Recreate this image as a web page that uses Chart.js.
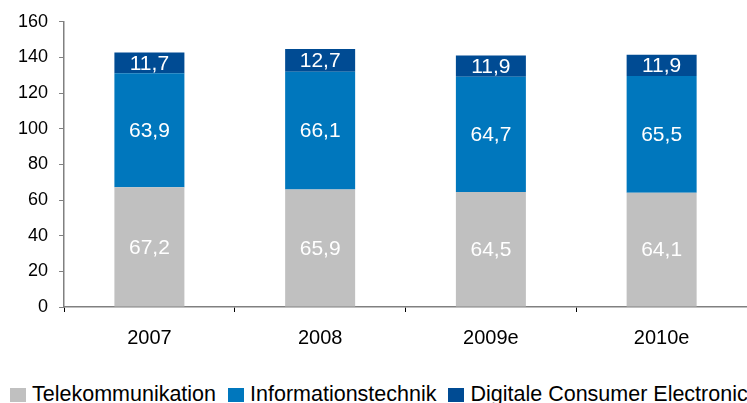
<!DOCTYPE html>
<html>
<head>
<meta charset="utf-8">
<script src="https://cdn.jsdelivr.net/npm/chart.js@4"></script>
<style>
  html, body { margin: 0; padding: 0; background: #fff; }
  #wrap { position: relative; width: 747px; height: 403px; overflow: hidden; }
  #box { position: absolute; left: 0; top: 0; width: 747px; height: 370px; }
  #legend { position: absolute; left: 10px; top: 382px; white-space: nowrap;
    font: 21.5px "Liberation Sans", Arial, sans-serif; color: #000; }
  #legend span.sw { display: inline-block; width: 16px; height: 14px; margin-right: 6px; vertical-align: -1px; }
  #legend span.it { margin-right: 12px; }
</style>
</head>
<body>
<div id="wrap">
  <div id="box"><canvas id="chart"></canvas></div>
  <div id="legend"></div>
</div>
<script>
// Marktvolumen nach Segment
const years = ['2007', '2008', '2009e', '2010e'];
const telekom = [67.2, 65.9, 64.5, 64.1];
const infotech = [63.9, 66.1, 64.7, 65.5];
const consumer = [11.7, 12.7, 11.9, 11.9];
const yTicks = [0, 20, 40, 60, 80, 100, 120, 140, 160];

const fontFam = '"Liberation Sans", Arial, sans-serif';

// white values in the middle of each segment
const segLabels = {
  id: 'segLabels',
  afterDatasetsDraw(chart) {
    const ctx = chart.ctx;
    ctx.save();
    ctx.fillStyle = '#fff';
    ctx.font = '21px ' + fontFam;
    ctx.textAlign = 'center';
    ctx.textBaseline = 'middle';
    chart.data.datasets.forEach((ds, i) => {
      chart.getDatasetMeta(i).data.forEach((bar, j) => {
        const mid = (bar.y + bar.base) / 2;
        ctx.fillText(ds.data[j].toFixed(1).replace('.', ','), bar.x, mid + 1);
      });
    });
    ctx.restore();
  }
};

const chart = new Chart(document.getElementById('chart'), {
  type: 'bar',
  data: {
    labels: years,
    datasets: [
      { label: 'Telekommunikation', data: telekom, backgroundColor: '#c0c0c0' },
      { label: 'Informationstechnik', data: infotech, backgroundColor: '#0077bd' },
      { label: 'Digitale Consumer Electronics', data: consumer, backgroundColor: '#004b93' }
    ]
  },
  options: {
    responsive: true,
    maintainAspectRatio: false,
    animation: false,
    layout: { padding: { left: 7, right: 0, top: 14, bottom: 6 } },
    datasets: { bar: { categoryPercentage: 1, barPercentage: 0.41 } },
    plugins: { legend: { display: false }, tooltip: { enabled: false } },
    scales: {
      x: {
        stacked: true,
        offset: true,
        grid: { offset: true, drawOnChartArea: false, tickLength: 5, color: '#000' },
        border: { color: '#808080', width: 1.5 },
        ticks: { color: '#000', font: { family: fontFam, size: 20 }, padding: 14 }
      },
      y: {
        stacked: true,
        min: 0,
        max: 160,
        afterBuildTicks(scale) { scale.ticks = yTicks.map(v => ({ value: v })); },
        grid: { drawOnChartArea: false, tickLength: 5, color: '#808080' },
        border: { color: '#808080', width: 1.5 },
        ticks: { color: '#000', font: { family: fontFam, size: 18 }, padding: 11 }
      }
    }
  },
  plugins: [segLabels]
});

// legend in one line, cut off at the right edge like the original
const leg = document.getElementById('legend');
chart.data.datasets.forEach(ds => {
  leg.innerHTML += '<span class="it"><span class="sw" style="background:' + ds.backgroundColor + '"></span>' + ds.label + '</span>';
});
</script>
</body>
</html>
